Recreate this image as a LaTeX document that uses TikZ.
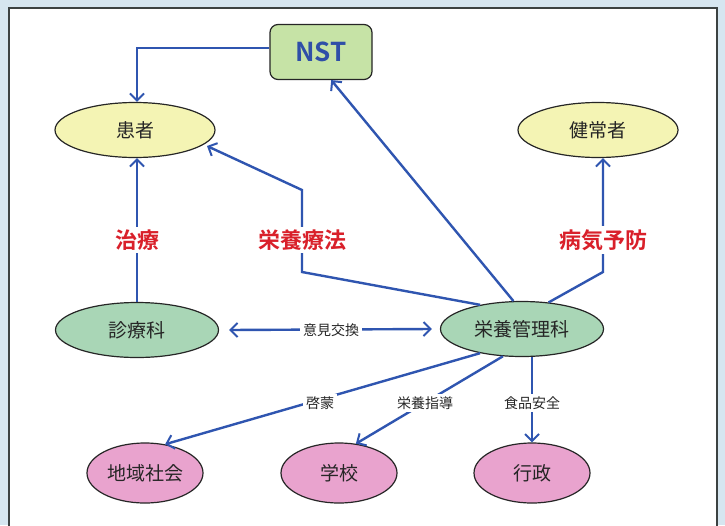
\documentclass[tikz,border=0pt]{standalone}
\usepackage{fontspec}
\newfontfamily\jp{Noto Sans CJK JP}
\newfontfamily\jpb{Noto Sans CJK JP Bold}
\usetikzlibrary{shapes.geometric,arrows.meta}
\definecolor{bgblue}{HTML}{D6E6F0}
\definecolor{frame}{HTML}{3C4242}
\definecolor{arr}{HTML}{2F55B0}
\definecolor{yel}{HTML}{F4F4B4}
\definecolor{grn}{HTML}{A9D6B6}
\definecolor{nstg}{HTML}{C6E3A6}
\definecolor{pnk}{HTML}{E9A3CE}
\definecolor{redl}{HTML}{D9202A}
\definecolor{nstb}{HTML}{2F4FA8}
\tikzset{
  x=1pt,y=-1pt,
  oval/.style={ellipse,draw=black!85,line width=1.2pt,minimum width=#1,minimum height=55pt,inner sep=0pt,font=\jp\fontsize{19}{19}\selectfont,text=black!85},
  con/.style={draw=arr,line width=2.4pt},
  tipa/.style={},
  arrw/.style={con,-{Straight Barb[length=7pt,width=14pt,line width=2pt]}},
  redlab/.style={font=\jpb\fontsize{22}{22}\selectfont,text=redl,fill=white,inner sep=3pt},
  smlab/.style={font=\jp\fontsize{14}{14}\selectfont,text=black!85,fill=white,inner sep=3pt}
}
\begin{document}
\begin{tikzpicture}
\useasboundingbox (0,0) rectangle (725,525);
\clip (0,0) rectangle (725,525);
\fill[bgblue] (0,0) rectangle (725,525);
\fill[white] (9,8) rectangle (717,540);
\draw[frame,line width=2pt] (9,540) -- (9,8) -- (717,8) -- (717,540);

\node[draw=black!85,line width=1.2pt,fill=nstg,rounded corners=8pt,minimum width=102pt,minimum height=55pt,font=\jpb\fontsize{26}{26}\selectfont,text=nstb] (nst) at (321,52) {NST};
\node[oval=160pt,fill=yel] (kan) at (135,130) {患者};
\node[oval=160pt,fill=yel] (ken) at (598,130) {健常者};
\node[oval=163pt,fill=grn] (shin) at (137,330) {診療科};
\node[oval=163pt,fill=grn] (eiy) at (522,329) {栄養管理科};
\node[oval=116pt,minimum height=60pt,fill=pnk] (chi) at (145,473) {地域社会};
\node[oval=116pt,minimum height=60pt,fill=pnk] (gak) at (339,473) {学校};
\node[oval=116pt,minimum height=60pt,fill=pnk] (gyo) at (532,473) {行政};

% NST -> 患者
\coordinate (c1) at (137,48);
\draw[arrw] (nst.west |- c1) -- (c1) -- (kan.north -| c1);

% 治療
\draw[arrw] (shin.north) -- (kan.south -| shin.north);
\node[redlab] (l1) at (137,240) {治療};

% 栄養療法
\coordinate (c2) at (302,272);
\coordinate (c3) at (302,190);
\coordinate (c3e) at (207,146);
\draw[arrw] (eiy.150) -- (c2) -- (c3) -- (c3e);
\node[redlab] (l2) at (302,240) {栄養療法};

% 栄養管理科 -> NST
\draw[arrw] (eiy.107) -- (nst.-70);

% 病気予防
\coordinate (c4) at (603,272);
\draw[arrw] (eiy.45) -- (c4) -- (ken.south -| c4);
\node[redlab] (l3) at (603,240) {病気予防};

% 意見交換
\draw[con,{Straight Barb[length=7pt,width=14pt,line width=2pt]}-{Straight Barb[length=7pt,width=14pt,line width=2pt]}] ([xshift=10pt]shin.east) -- ([xshift=-8pt]eiy.west);
\node[smlab] (l4) at (331,330) {意見交換};

% 啓蒙
\draw[arrw] (eiy.-150) -- (chi.55);
\node[smlab] (l5) at (320,403) {啓蒙};

% 栄養指導
\draw[arrw] (eiy.-125) -- (gak.60);
\node[smlab] (l6) at (425,403) {栄養指導};

% 食品安全
\draw[arrw] (eiy.south -| gyo.north) -- (gyo.north);
\node[smlab] (l7) at (532,403) {食品安全};
\end{tikzpicture}
\end{document}
